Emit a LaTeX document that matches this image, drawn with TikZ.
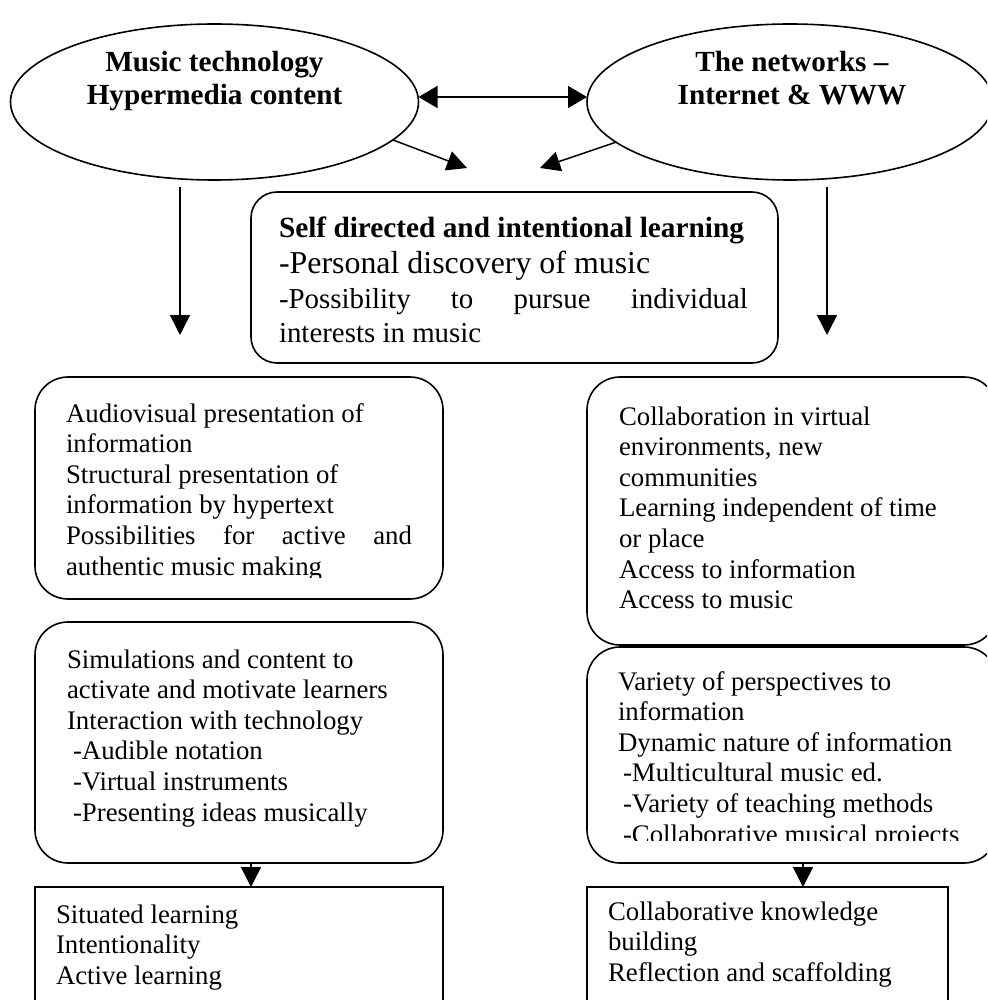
\documentclass[tikz,border=0pt]{standalone}
\usepackage{fontspec}
\setmainfont{Liberation Serif}
\usetikzlibrary{shapes.geometric,arrows.meta}
% stacked lines whose baseline is the first line's baseline
\newcommand\leftlines[1]{\vtop{\halign{##\hfil\cr#1\crcr}}}
\newcommand\centerlines[1]{\vtop{\halign{\hfil##\hfil\cr#1\crcr}}}
\begin{document}
\begin{tikzpicture}[x=1pt,y=-1pt,
  every node/.style={inner sep=0pt, outer sep=0pt},
  arr/.style={line width=1.5pt, -{Triangle[length=20pt,width=20pt]}},
  oval/.style={draw, line width=1.6pt, ellipse, minimum height=156pt},
  rbox/.style={draw, line width=1.6pt, rounded corners=33pt, anchor=north west},
  sbox/.style={draw, line width=1.6pt, anchor=north west},
  body/.style={anchor=base west, font=\fontsize{26.8}{30.6}\selectfont},
  title/.style={anchor=base, font=\fontsize{29.2}{33}\selectfont\bfseries},
]
\useasboundingbox (0,0) rectangle (987,1000);
\clip (0,0) rectangle (987,1000);
\fill[white] (0,0) rectangle (987,1000);

% the two sources
\node[oval, minimum width=408pt] (lt) at (214.5,102) {};
\node[oval, minimum width=406pt] (rt) at (790,102) {};
\node[title] (ltt) at (214.5,72) {\centerlines{Music technology\cr Hypermedia content}};
\node[title] (rtt) at (792,72) {\centerlines{The networks \textendash\cr Internet \& WWW}};

\draw[line width=1.5pt, {Triangle[length=19pt,width=22pt]}-{Triangle[length=19pt,width=22pt]}]
  ([yshift=5pt]lt.east) -- ([yshift=5pt]rt.west);

% converging arrows
\coordinate (lda) at (467,168);
\coordinate (rda) at (540,168);
\draw[arr] (lt.-12.8) -- (lda);
\draw[arr] (rt.193.3) -- (rda);

% central box
\node[rbox, rounded corners=26pt, minimum width=527pt, minimum height=171pt] (cb) at (251,192) {};
\node[anchor=base west] (cbt) at (279,237) {\vtop{\lineskiplimit=-100pt
  \baselineskip=36pt
  \hbox{\fontsize{29.3}{33}\selectfont\bfseries Self directed and intentional learning}
  \hbox{\fontsize{31.9}{36}\selectfont -Personal discovery of music}
  \baselineskip=35pt
  \hbox{\fontsize{28.9}{34}\selectfont\hbox to 469pt{-Possibility\hfill to\hfill pursue\hfill individual}}
  \baselineskip=34pt
  \hbox{\fontsize{28.9}{34}\selectfont interests in music}}};

% side arrows
\coordinate (lvs) at (180,187);
\coordinate (lve) at (180,335);
\coordinate (rvs) at (827,187);
\coordinate (rve) at (827,335);
\draw[arr] (lvs) -- (lve);
\draw[arr] (rvs) -- (rve);

% left column
\node[rbox, minimum width=408pt, minimum height=222pt] (lb1) at (35,377) {};
\begin{scope}
  \clip (0,370) rectangle (987,577);
  \node[body] (lb1t) at (66,422) {\leftlines{Audiovisual presentation of\cr
    information\cr
    Structural presentation of\cr
    information by hypertext\cr
    \hbox to 346pt{Possibilities\hfill for\hfill active\hfill and}\cr
    authentic music making}};
\end{scope}

\node[rbox, minimum width=408pt, minimum height=241pt] (lb2) at (35,622) {};
\node[body] (lb2t) at (67,668) {\leftlines{Simulations and content to\cr
    activate and motivate learners\cr
    Interaction with technology\cr
    \kern6pt-Audible notation\cr
    \kern6pt-Virtual instruments\cr
    \kern6pt-Presenting ideas musically}};

\node[sbox, minimum width=408pt, minimum height=125pt] (lr) at (35,887) {};
\node[body] (lrt) at (56,923) {\leftlines{Situated learning\cr
    Intentionality\cr
    Active learning}};
\draw[arr] ([xshift=12pt]lb2.south) -- ([xshift=12pt]lr.north);

% right column
\node[rbox, minimum width=410pt, minimum height=268pt] (rb1) at (587,377) {};
\node[body] (rb1t) at (619,425) {\leftlines{Collaboration in virtual\cr
    environments, new\cr
    communities\cr
    Learning independent of time\cr
    or place\cr
    Access to information\cr
    Access to music}};

\node[rbox, minimum width=410pt, minimum height=216pt] (rb2) at (587,647) {};
\begin{scope}
  \clip (0,640) rectangle (987,840);
  \node[body] (rb2t) at (618,690) {\leftlines{Variety of perspectives to\cr
    information\cr
    Dynamic nature of information\cr
    \kern5pt-Multicultural music ed.\cr
    \kern5pt-Variety of teaching methods\cr
    \kern5pt-Collaborative musical projects}};
\end{scope}

\node[sbox, minimum width=361pt, minimum height=125pt] (rr) at (587,887) {};
\node[body] (rrt) at (608,920) {\leftlines{Collaborative knowledge\cr
    building\cr
    Reflection and scaffolding}};
\draw[arr] ([xshift=11pt]rb2.south) -- ([xshift=35.5pt]rr.north);
\end{tikzpicture}
\end{document}
